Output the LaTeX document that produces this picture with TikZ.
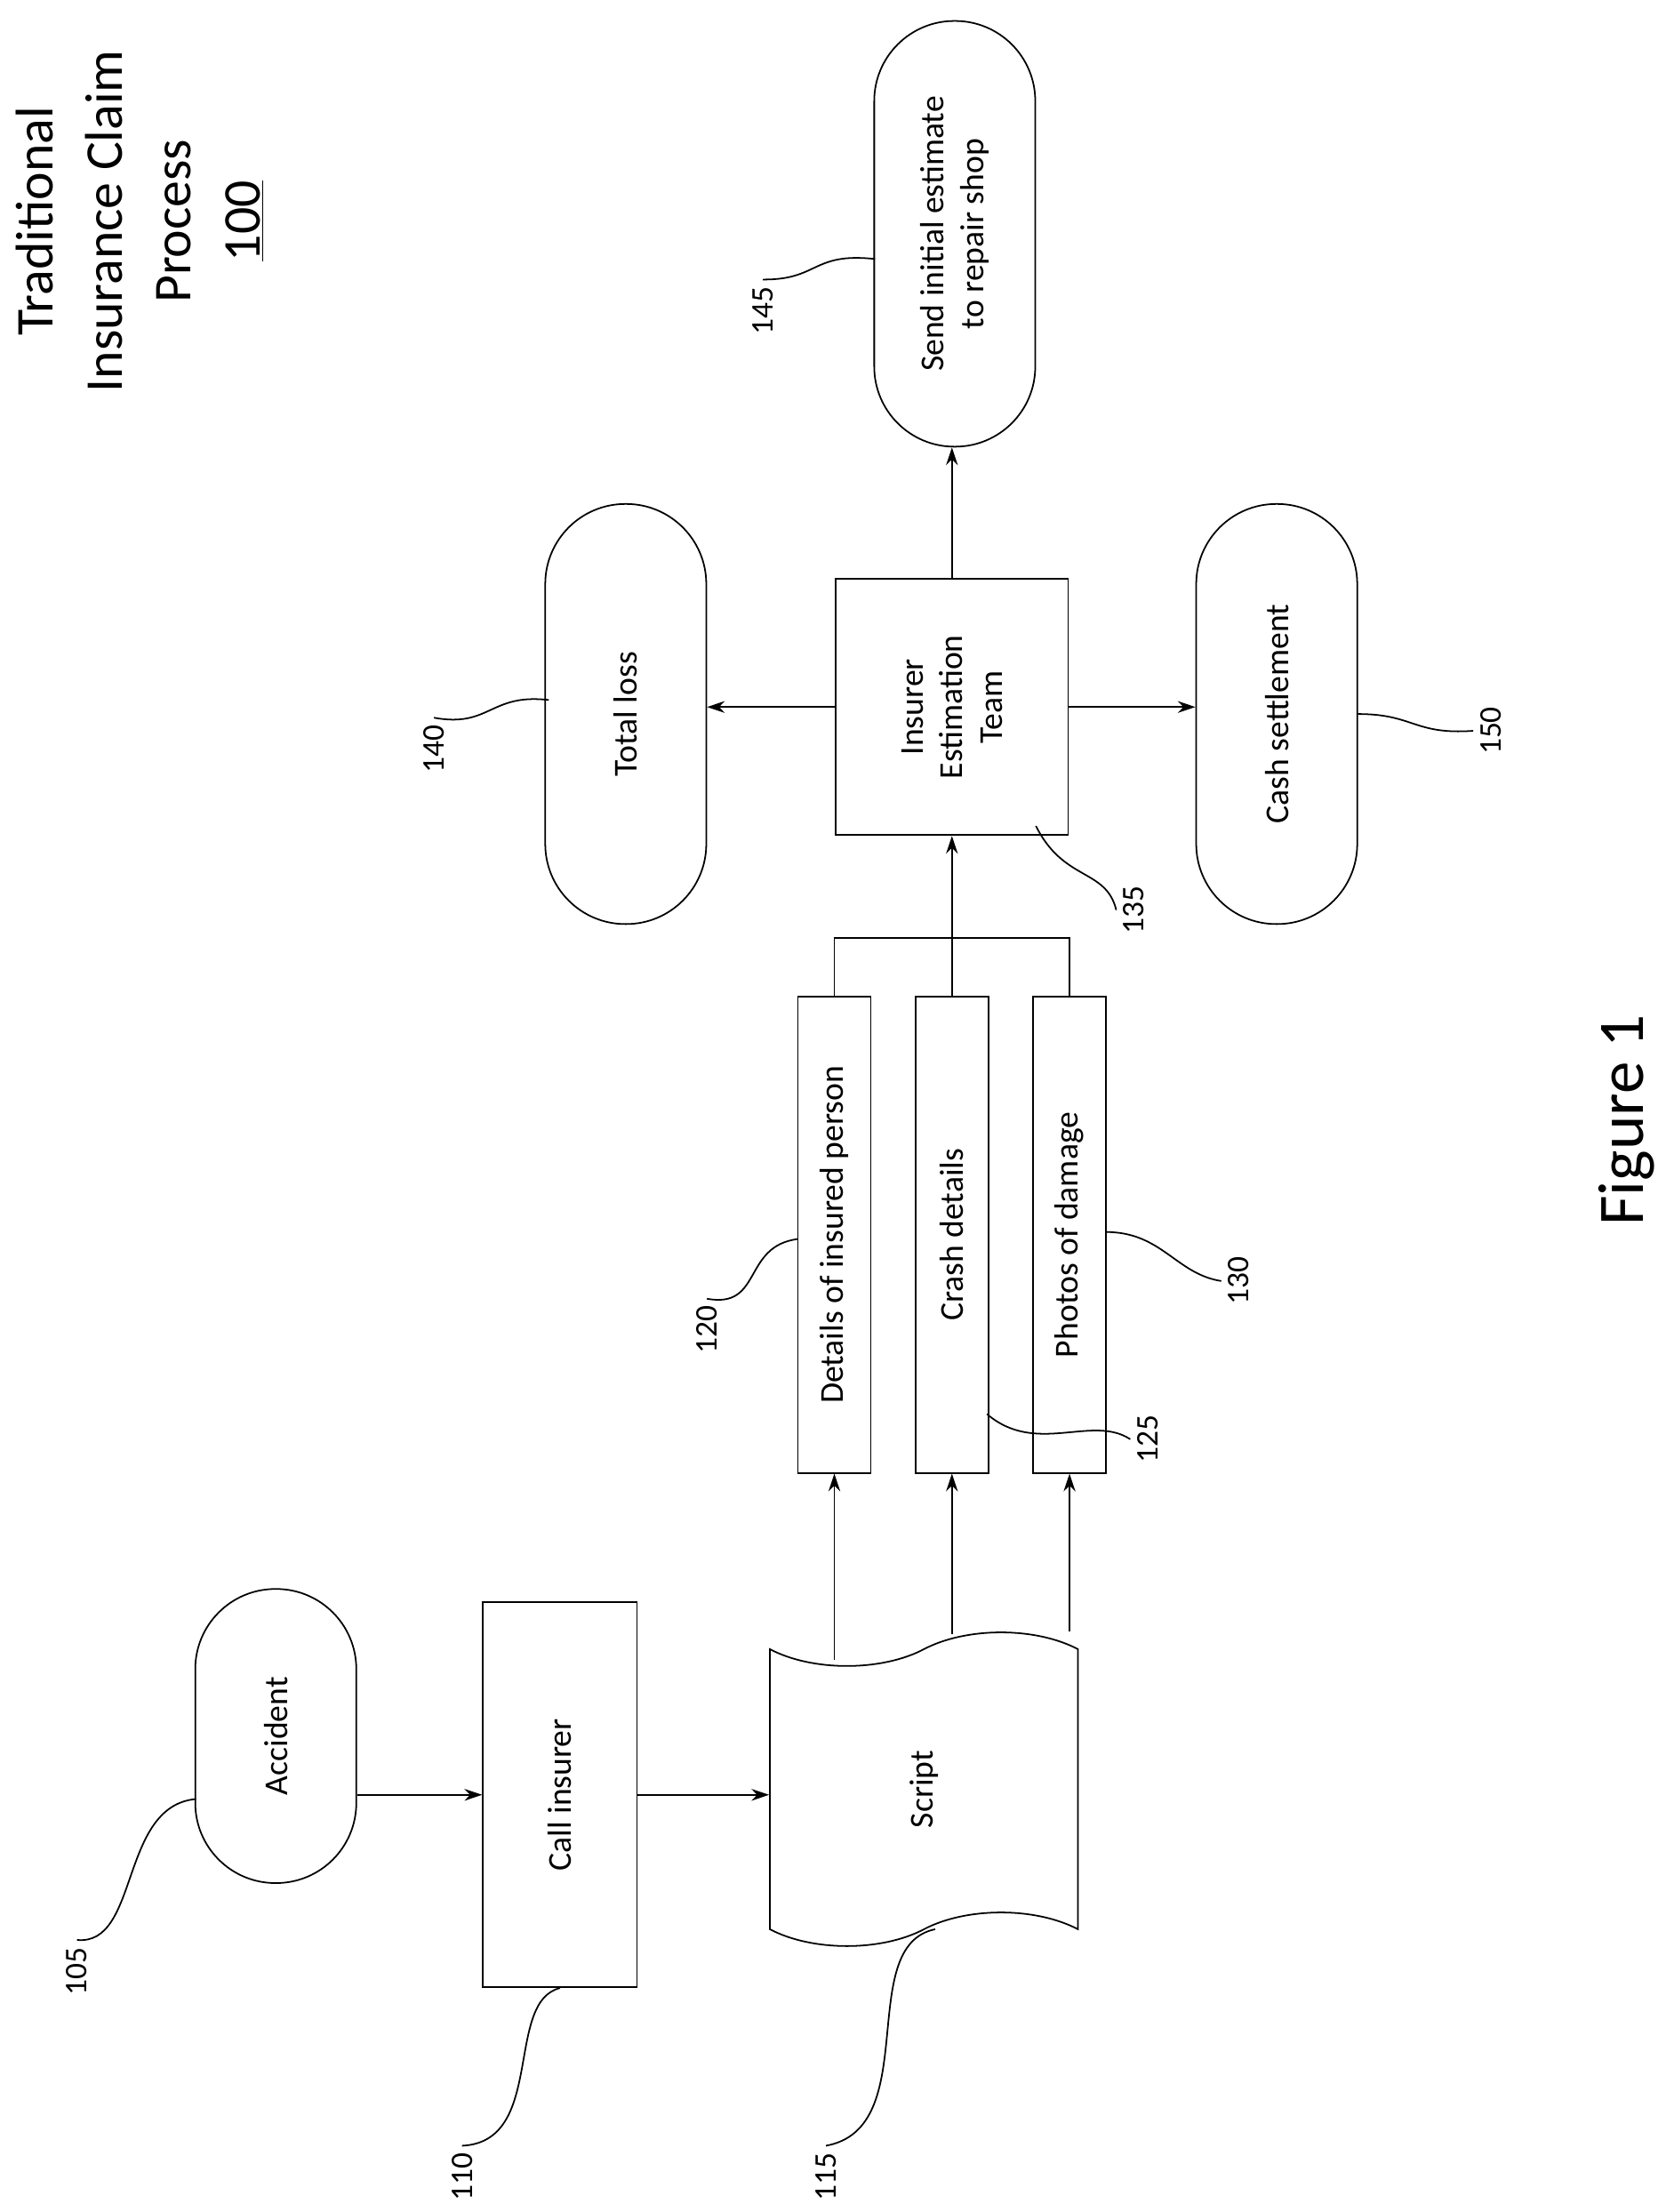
\documentclass[tikz,border=0pt]{standalone}
\usepackage{fontspec}
\setmainfont{Carlito}
\usetikzlibrary{arrows.meta, positioning, shapes.symbols, calc}

\begin{document}
\begin{tikzpicture}[
    x=0.025cm, y=-0.025cm,
    line width=0.8pt,
    >={Stealth[length=9pt,width=6pt]},
    pill/.style={draw=black, rounded corners=1.43cm, rotate=90, minimum height=2.875cm, font=\fontsize{17}{20}\selectfont, align=center},
    box/.style={draw=black, rotate=90, font=\fontsize{17}{20}\selectfont, align=center},
    datanode/.style={box, minimum width=8.5cm, minimum height=1.3cm},
    numlabel/.style={rotate=90, font=\fontsize{16}{19}\selectfont},
    leader/.style={line width=0.8pt},
    ]
    \useasboundingbox (0,0) rectangle (1190,1580);

    % title and figure caption
    \node[rotate=90, align=center, font=\fontsize{27}{35}\selectfont] (title) at (100,158)
        {Traditional\\Insurance Claim\\Process\\\underline{100}};
    \node[rotate=90, font=\fontsize{33}{38}\selectfont] (fig) at (1162,800) {Figure 1};

    % process nodes
    \node[pill, minimum width=5.25cm]              (acc)    at (197,1240) {Accident};
    \node[box, minimum width=6.875cm, minimum height=2.75cm] (call) at (400,1282) {Call insurer};
    \node[tape, draw=black, minimum width=5.5cm, minimum height=5.6cm, tape bend height=0.6cm] (script) at (660,1278) {};
    \node[rotate=90, font=\fontsize{17}{20}\selectfont] at (script.center) {Script};
    \node[datanode] (det)   at (596,882) {Details of insured person};
    \node[datanode] (crash) at (680,882) {Crash details};
    \node[datanode] (photo) at (764,882) {Photos of damage};
    \node[box, minimum width=4.575cm, minimum height=4.15cm] (team) at (680,505) {Insurer\\Estimation\\Team};
    \node[pill, minimum width=7.5cm]  (loss) at (447,510) {Total loss};
    \node[pill, minimum width=7.5cm]  (cash) at (912,510) {Cash settlement};
    \node[pill, minimum width=7.6cm]  (send) at (682,167) {Send initial estimate\\to repair shop};

    % connectors
    \draw[->] (acc.south |- call.center) -- (call.north);
    \draw[->] (call.south) -- (call.south -| script.west);
    \draw[->] ($(det.west |- script.north)+(0,8)$) -- (det.west);
    \draw[->] ($(crash.west |- script.north)+(0,-10)$) -- (crash.west);
    \draw[->] ($(photo.west |- script.north)+(0,-12)$) -- (photo.west);
    \coordinate (join) at (680,670);
    \draw (det.east) |- (join) -| (photo.east);
    \draw (crash.east) -- (join);
    \draw[->] (join) -- (team.west);
    \draw[->] (team.north) -- (team.north -| loss.south);
    \draw[->] (team.south) -- (team.south -| cash.north);
    \draw[->] (team.east) -- (team.east |- send.west);

    % reference numerals
    \node[numlabel] (n105) at (55,1408) {105};
    \node[numlabel] (n110) at (330,1555) {110};
    \node[numlabel] (n115) at (590,1555) {115};
    \node[numlabel] (n120) at (505,950) {120};
    \node[numlabel] (n125) at (820,1028) {125};
    \node[numlabel] (n130) at (885,915) {130};
    \node[numlabel] (n135) at (810,650) {135};
    \node[numlabel] (n140) at (310,535) {140};
    \node[numlabel] (n145) at (545,222) {145};
    \node[numlabel] (n150) at (1065,522) {150};

    \coordinate (a105) at (140,1285);
    \coordinate (a110) at (400,1420);
    \coordinate (a115) at (668,1378);
    \coordinate (a120) at (570,885);
    \coordinate (a125) at (705,1010);
    \coordinate (a130) at (790,880);
    \coordinate (a135) at (740,590);
    \coordinate (a140) at (392,500);
    \coordinate (a145) at (625,185);
    \coordinate (a150) at (970,510);

    \draw[leader] (n105.east) .. controls (100,1390) and (85,1290) .. (a105);
    \draw[leader] (n110.east) .. controls (390,1530) and (360,1430) .. (a110);
    \draw[leader] (n115.east) .. controls (660,1520) and (610,1390) .. (a115);
    \draw[leader] (n120.east) .. controls (545,935) and (530,890) .. (a120);
    \draw[leader] (a125) .. controls (740,1040) and (780,1010) .. (n125.north);
    \draw[leader] (a130) .. controls (830,880) and (840,910) .. (n130.north);
    \draw[leader] (a135) .. controls (760,630) and (790,620) .. (n135.north);
    \draw[leader] (n140.east) .. controls (350,520) and (350,495) .. (a140);
    \draw[leader] (n145.east) .. controls (585,200) and (580,180) .. (a145);
    \draw[leader] (a150) .. controls (1010,510) and (1010,525) .. (n150.north);
\end{tikzpicture}
\end{document}
